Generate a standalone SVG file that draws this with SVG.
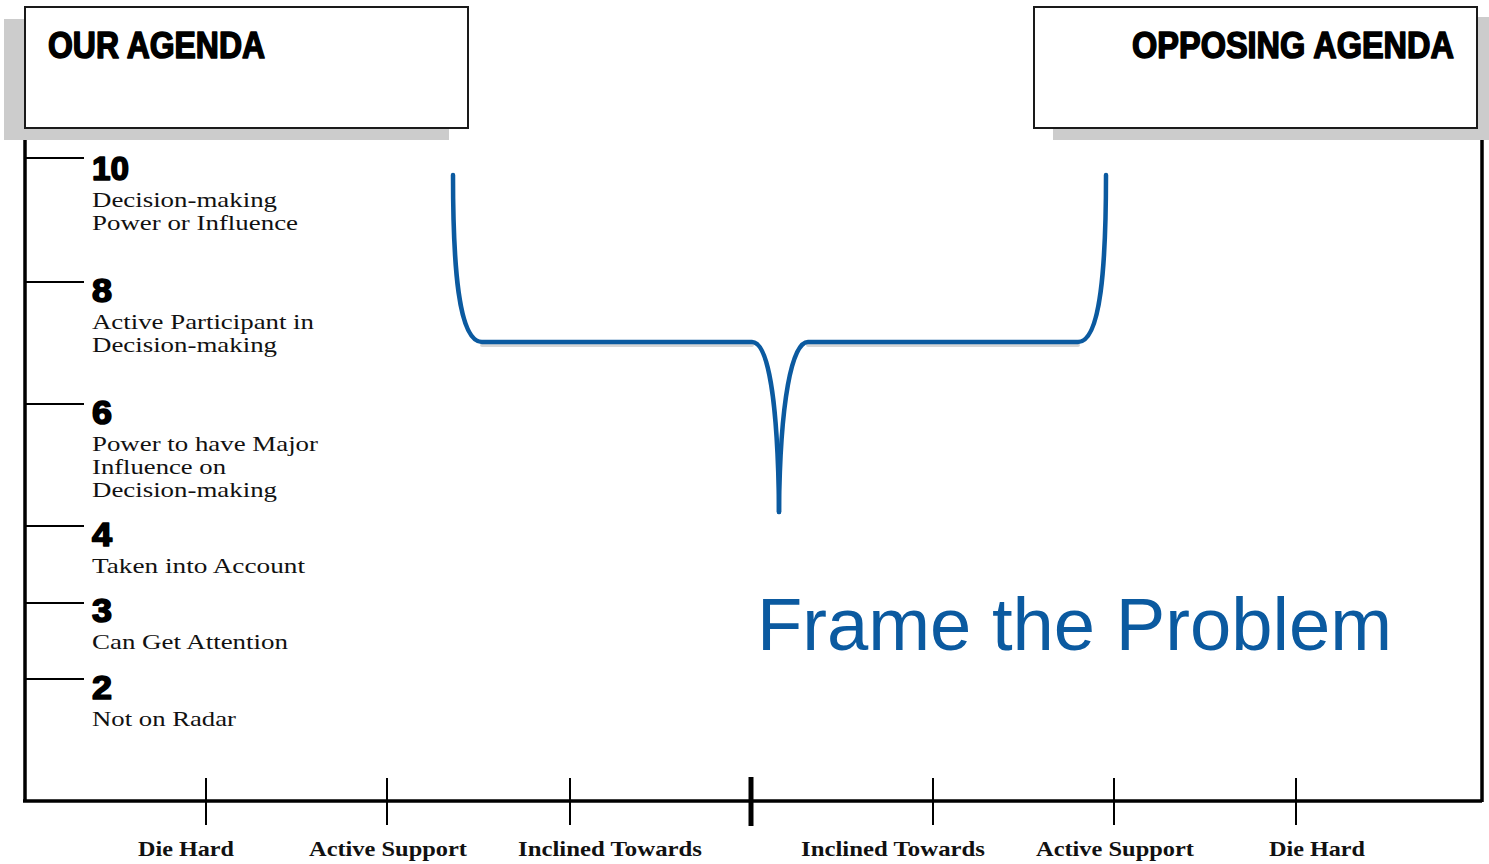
<svg xmlns="http://www.w3.org/2000/svg" width="1489" height="864" viewBox="0 0 1489 864">
  <style>
    .shadow { fill: #cccccc; }
    .box { fill: #ffffff; stroke: #1a1a1a; stroke-width: 2; }
    .head { font-family: "Liberation Sans", Arial, sans-serif; font-weight: bold; font-size: 37px; fill: #000; stroke: #000; stroke-width: 1.6; stroke-linejoin: round; }
    .num { font-family: "Liberation Sans", Arial, sans-serif; font-weight: bold; font-size: 33px; fill: #000; stroke: #000; stroke-width: 1.6; stroke-linejoin: round; }
    .desc { font-family: "Liberation Serif", "Times New Roman", serif; font-size: 21px; fill: #111; }
    .axis-label { font-family: "Liberation Serif", "Times New Roman", serif; font-weight: bold; font-size: 21px; fill: #111; }
    .axis { stroke: #000; fill: none; }
    .brace { fill: none; stroke: #0b5aa0; stroke-width: 4.5; stroke-linecap: round; stroke-linejoin: round; }
    .brace-shadow { fill: none; stroke: #bbbbbb; stroke-width: 4; stroke-linecap: round; opacity: 0.6; }
    .title { font-family: "Liberation Sans", Arial, sans-serif; font-size: 74px; fill: #0b5aa0; }
  </style>

  <rect width="1489" height="864" fill="#ffffff"/>

  <!-- left header box with drop shadow -->
  <g id="our-agenda">
    <rect class="shadow" x="4" y="19" width="21" height="121"/>
    <rect class="shadow" x="4" y="128" width="445" height="12"/>
    <rect class="box" x="25" y="7" width="443" height="121"/>
    <text class="head" x="48" y="58" textLength="217" lengthAdjust="spacingAndGlyphs">OUR AGENDA</text>
  </g>

  <!-- right header box with drop shadow -->
  <g id="opposing-agenda">
    <rect class="shadow" x="1477" y="17" width="12" height="123"/>
    <rect class="shadow" x="1053" y="128" width="436" height="12"/>
    <rect class="box" x="1034" y="7" width="443" height="121"/>
    <text class="head" x="1132" y="58" textLength="322" lengthAdjust="spacingAndGlyphs">OPPOSING AGENDA</text>
  </g>

  <!-- axes -->
  <g id="axes">
    <line class="axis" x1="25" y1="140" x2="25" y2="802" stroke-width="3.5"/>
    <line class="axis" x1="1482" y1="140" x2="1482" y2="802" stroke-width="3.5"/>
    <line class="axis" x1="23" y1="801" x2="1482" y2="801" stroke-width="3.5"/>
    <!-- vertical scale ticks -->
    <g stroke="#000" stroke-width="2">
      <line x1="25" y1="158" x2="84" y2="158"/>
      <line x1="25" y1="282" x2="84" y2="282"/>
      <line x1="25" y1="404" x2="84" y2="404"/>
      <line x1="25" y1="526" x2="84" y2="526"/>
      <line x1="25" y1="603" x2="84" y2="603"/>
      <line x1="25" y1="679" x2="84" y2="679"/>
    </g>
    <!-- horizontal scale ticks -->
    <g stroke="#000" stroke-width="2">
      <line x1="206" y1="778" x2="206" y2="825"/>
      <line x1="387" y1="778" x2="387" y2="825"/>
      <line x1="570" y1="778" x2="570" y2="825"/>
      <line x1="933" y1="778" x2="933" y2="825"/>
      <line x1="1114" y1="778" x2="1114" y2="825"/>
      <line x1="1296" y1="778" x2="1296" y2="825"/>
    </g>
    <line x1="751" y1="777" x2="751" y2="826" stroke="#000" stroke-width="5"/>
  </g>

  <!-- influence levels -->
  <g id="level-10">
    <text class="num" x="92" y="180" textLength="37" lengthAdjust="spacingAndGlyphs">10</text>
    <text class="desc" x="92" y="207" textLength="185" lengthAdjust="spacingAndGlyphs">Decision-making</text>
    <text class="desc" x="92" y="230" textLength="206" lengthAdjust="spacingAndGlyphs">Power or Influence</text>
  </g>
  <g id="level-8">
    <text class="num" x="92" y="302" textLength="20" lengthAdjust="spacingAndGlyphs">8</text>
    <text class="desc" x="92" y="329" textLength="222" lengthAdjust="spacingAndGlyphs">Active Participant in</text>
    <text class="desc" x="92" y="352" textLength="185" lengthAdjust="spacingAndGlyphs">Decision-making</text>
  </g>
  <g id="level-6">
    <text class="num" x="92" y="424" textLength="20" lengthAdjust="spacingAndGlyphs">6</text>
    <text class="desc" x="92" y="451" textLength="226" lengthAdjust="spacingAndGlyphs">Power to have Major</text>
    <text class="desc" x="92" y="474" textLength="134" lengthAdjust="spacingAndGlyphs">Influence on</text>
    <text class="desc" x="92" y="497" textLength="185" lengthAdjust="spacingAndGlyphs">Decision-making</text>
  </g>
  <g id="level-4">
    <text class="num" x="92" y="546" textLength="20" lengthAdjust="spacingAndGlyphs">4</text>
    <text class="desc" x="92" y="573" textLength="213" lengthAdjust="spacingAndGlyphs">Taken into Account</text>
  </g>
  <g id="level-3">
    <text class="num" x="92" y="622" textLength="20" lengthAdjust="spacingAndGlyphs">3</text>
    <text class="desc" x="92" y="649" textLength="196" lengthAdjust="spacingAndGlyphs">Can Get Attention</text>
  </g>
  <g id="level-2">
    <text class="num" x="92" y="699" textLength="20" lengthAdjust="spacingAndGlyphs">2</text>
    <text class="desc" x="92" y="726" textLength="144" lengthAdjust="spacingAndGlyphs">Not on Radar</text>
  </g>

  <!-- stance labels along the bottom axis -->
  <g id="stance-labels">
    <text class="axis-label" x="138" y="856" textLength="96" lengthAdjust="spacingAndGlyphs">Die Hard</text>
    <text class="axis-label" x="309" y="856" textLength="158" lengthAdjust="spacingAndGlyphs">Active Support</text>
    <text class="axis-label" x="518" y="856" textLength="184" lengthAdjust="spacingAndGlyphs">Inclined Towards</text>
    <text class="axis-label" x="801" y="856" textLength="184" lengthAdjust="spacingAndGlyphs">Inclined Towards</text>
    <text class="axis-label" x="1036" y="856" textLength="158" lengthAdjust="spacingAndGlyphs">Active Support</text>
    <text class="axis-label" x="1269" y="856" textLength="96" lengthAdjust="spacingAndGlyphs">Die Hard</text>
  </g>

  <!-- brace gathering both agendas -->
  <g id="brace">
    <path class="brace-shadow" d="M482,345 L752,345 M808,345 L1078,345"/>
    <path class="brace" d="M453,175 C453,265 458,342 482,342 L752,342 C768,342 778,400 779,512"/>
    <path class="brace" d="M1106,175 C1106,265 1101,342 1078,342 L808,342 C792,342 780,400 779,512"/>
  </g>

  <g id="frame-title">
    <text class="title" x="757" y="650" textLength="635" lengthAdjust="spacingAndGlyphs">Frame the Problem</text>
  </g>
</svg>
